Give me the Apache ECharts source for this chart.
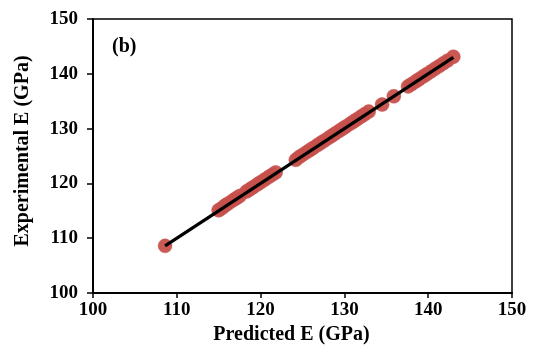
<!DOCTYPE html>
<html>
<head>
<meta charset="utf-8">
<script src="https://cdn.jsdelivr.net/npm/echarts@6/dist/echarts.min.js"></script>
<style>
  html, body { margin: 0; padding: 0; background: #fff; }
  #chart { width: 533px; height: 346px; }
</style>
</head>
<body>
<div id="chart"></div>
<script>
// predicted vs experimental modulus
const predicted = [
  108.6, 115.0, 115.4, 115.8, 116.2, 116.7, 117.1, 117.5, 118.3, 118.7,
  119.1, 119.6, 120.0, 120.5, 121.0, 121.4, 121.8, 124.2, 124.6, 125.0,
  125.5, 125.9, 126.3, 126.8, 127.2, 127.6, 128.1, 128.5, 128.9, 129.4,
  129.8, 130.2, 130.7, 131.1, 131.5, 132.0, 132.4, 132.9, 134.5, 135.9,
  137.6, 138.0, 138.5, 138.9, 139.4, 139.8, 140.3, 140.8, 141.3, 141.8,
  142.3, 143.0
]
const experimental = [
  108.6, 115.1, 115.5, 116.0, 116.4, 116.9, 117.3, 117.7, 118.5, 118.9,
  119.3, 119.8, 120.2, 120.7, 121.2, 121.6, 122.0, 124.3, 124.8, 125.2,
  125.7, 126.1, 126.5, 127.0, 127.4, 127.8, 128.3, 128.7, 129.1, 129.6,
  130.0, 130.4, 130.9, 131.3, 131.7, 132.2, 132.6, 133.1, 134.4, 135.9,
  137.7, 138.1, 138.6, 139.0, 139.5, 139.9, 140.4, 140.9, 141.4, 141.9,
  142.4, 143.1
]
const fitX = [108.6, 143.0]
const fitY = [108.6, 143.0]

const points = predicted.map((p, i) => [p, experimental[i]])
const fitLine = fitX.map((x, i) => [x, fitY[i]])

const font = 'Liberation Serif'
const chart = echarts.init(document.getElementById('chart'))
chart.setOption({
  backgroundColor: '#fff',
  animation: false,
  grid: {
    left: 93, right: 21, top: 19, bottom: 53,
    outerBoundsMode: 'none',
    show: true, borderColor: '#000', borderWidth: 1.5
  },
  xAxis: {
    type: 'value', min: 100, max: 150, interval: 10,
    name: 'Predicted E (GPa)', nameLocation: 'middle', nameGap: 24,
    nameTextStyle: { fontFamily: font, fontWeight: 'bold', fontSize: 20, color: '#000', padding: [0, 22, 0, 0] },
    axisLine: { lineStyle: { color: '#000', width: 2 } },
    axisTick: { show: true, length: 5, lineStyle: { color: '#000', width: 1.5 } },
    axisLabel: { fontFamily: font, fontWeight: 'bold', fontSize: 19, color: '#000', margin: 8 },
    splitLine: { show: false }
  },
  yAxis: {
    type: 'value', min: 100, max: 150, interval: 10,
    name: 'Experimental E (GPa)', nameLocation: 'middle', nameGap: 60,
    nameTextStyle: { fontFamily: font, fontWeight: 'bold', fontSize: 20, color: '#000', padding: [0, 0, 0, 10] },
    axisLine: { show: true, lineStyle: { color: '#000', width: 2 } },
    axisTick: { show: true, length: 6, lineStyle: { color: '#000', width: 1.5 } },
    axisLabel: { fontFamily: font, fontWeight: 'bold', fontSize: 19, color: '#000', margin: 15 },
    splitLine: { show: false }
  },
  graphic: [{
    type: 'text', left: 112, top: 37,
    style: { text: '(b)', font: 'bold 20px "Liberation Serif"', fill: '#000' }
  }],
  series: [
    {
      type: 'scatter',
      data: points,
      symbolSize: 14,
      itemStyle: { color: '#c8504b', borderColor: '#c0504d', borderWidth: 0.5, opacity: 0.95 }
    },
    {
      type: 'line',
      data: fitLine,
      symbol: 'none',
      z: 5,
      lineStyle: { color: '#000', width: 3.2 }
    }
  ]
})
</script>
</body>
</html>
